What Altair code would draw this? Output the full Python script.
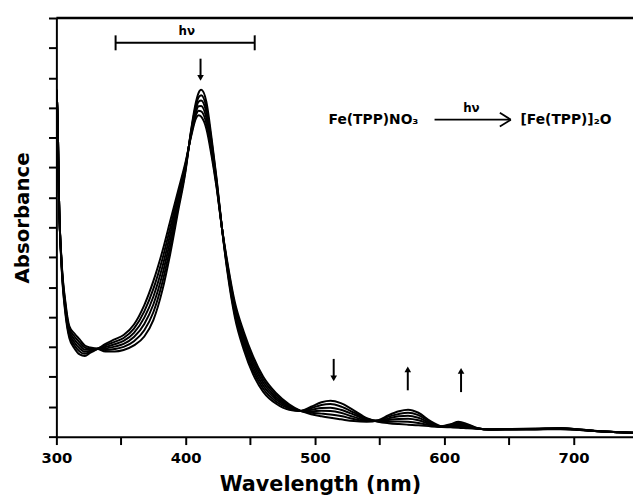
import altair as alt
import pandas as pd

wavelength = [300, 301, 302, 304, 307, 310, 314, 318, 322, 326, 332, 338, 345, 352, 360, 368, 375,
              382, 388, 394, 400, 404, 408, 410, 412, 416, 420, 424, 428, 432, 438, 445, 452,
              460, 470, 480, 489, 497, 505, 512, 520, 530, 540, 549, 557, 565, 572, 580, 590,
              598, 605, 611, 618, 626, 635, 650, 670, 690, 705, 720, 735, 746]

curve_1 = [11.6, 10.6, 8.0, 5.9, 4.5, 3.7, 3.45, 3.25, 3.05, 2.98, 2.94, 2.85, 2.85, 2.9, 3.05, 3.35, 3.9,
           4.9, 6.1, 7.5, 8.9, 10.2, 11.2, 11.5, 11.6, 11.2, 10.0, 8.6, 7.0, 5.6, 4.0, 2.9, 2.1,
           1.5, 1.1, 0.9, 0.86, 1.0, 1.15, 1.2, 1.12, 0.88, 0.62, 0.5, 0.45, 0.42, 0.4, 0.38, 0.34,
           0.32, 0.31, 0.3, 0.28, 0.26, 0.24, 0.24, 0.24, 0.25, 0.22, 0.18, 0.15, 0.13]
curve_2 = [11.6, 10.6, 8.0, 5.86, 4.42, 3.62, 3.35, 3.15, 2.98, 2.94, 2.94, 2.9, 2.93, 3.0, 3.19, 3.56, 4.16,
           5.16, 6.32, 7.64, 8.96, 10.16, 11.09, 11.35, 11.42, 11.02, 9.88, 8.54, 7.0, 5.66, 4.1, 3.02, 2.22,
           1.6, 1.17, 0.94, 0.86, 0.95, 1.06, 1.09, 1.01, 0.81, 0.6, 0.51, 0.5, 0.51, 0.5, 0.46, 0.37,
           0.33, 0.33, 0.34, 0.31, 0.26, 0.24, 0.24, 0.25, 0.26, 0.22, 0.18, 0.15, 0.13]
curve_3 = [11.6, 10.6, 8.0, 5.82, 4.34, 3.54, 3.25, 3.05, 2.91, 2.91, 2.94, 2.95, 3.01, 3.1, 3.33, 3.77, 4.42,
           5.42, 6.54, 7.78, 9.02, 10.12, 10.98, 11.2, 11.24, 10.84, 9.76, 8.48, 7.0, 5.72, 4.2, 3.14, 2.34,
           1.7, 1.24, 0.97, 0.86, 0.9, 0.96, 0.97, 0.9, 0.74, 0.57, 0.52, 0.56, 0.59, 0.6, 0.55, 0.4,
           0.33, 0.35, 0.38, 0.34, 0.27, 0.24, 0.25, 0.25, 0.27, 0.23, 0.18, 0.15, 0.13]
curve_4 = [11.6, 10.6, 8.0, 5.78, 4.26, 3.46, 3.15, 2.95, 2.84, 2.87, 2.94, 3.0, 3.09, 3.2, 3.47, 3.98, 4.68,
           5.68, 6.76, 7.92, 9.08, 10.08, 10.87, 11.05, 11.06, 10.66, 9.64, 8.42, 7.0, 5.78, 4.3, 3.26, 2.46,
           1.8, 1.31, 1.01, 0.86, 0.85, 0.87, 0.86, 0.8, 0.66, 0.55, 0.53, 0.61, 0.68, 0.7, 0.63, 0.44,
           0.34, 0.38, 0.42, 0.36, 0.27, 0.24, 0.25, 0.26, 0.27, 0.23, 0.18, 0.15, 0.13]
curve_5 = [11.6, 10.6, 8.0, 5.74, 4.18, 3.38, 3.05, 2.85, 2.77, 2.84, 2.94, 3.05, 3.17, 3.3, 3.61, 4.19, 4.94,
           5.94, 6.98, 8.06, 9.14, 10.04, 10.76, 10.9, 10.88, 10.48, 9.52, 8.36, 7.0, 5.84, 4.4, 3.38, 2.58,
           1.9, 1.38, 1.04, 0.86, 0.8, 0.77, 0.74, 0.69, 0.59, 0.52, 0.54, 0.67, 0.76, 0.8, 0.72, 0.47,
           0.34, 0.4, 0.46, 0.39, 0.28, 0.24, 0.26, 0.26, 0.28, 0.24, 0.18, 0.15, 0.13]
curve_6 = [11.6, 10.6, 8.0, 5.7, 4.1, 3.3, 2.95, 2.75, 2.7, 2.8, 2.94, 3.1, 3.25, 3.4, 3.75, 4.4, 5.2,
           6.2, 7.2, 8.2, 9.2, 10.0, 10.65, 10.75, 10.7, 10.3, 9.4, 8.3, 7.0, 5.9, 4.5, 3.5, 2.7,
           2.0, 1.45, 1.08, 0.86, 0.75, 0.68, 0.63, 0.58, 0.52, 0.5, 0.55, 0.72, 0.85, 0.9, 0.8, 0.5,
           0.35, 0.42, 0.5, 0.42, 0.28, 0.24, 0.26, 0.27, 0.29, 0.24, 0.18, 0.15, 0.13]

curves = [curve_1, curve_2, curve_3, curve_4, curve_5, curve_6]

x_ticks = [300, 350, 400, 450, 500, 550, 600, 650, 700]
y_ticks = list(range(0, 15))

# annotation values (data coordinates)
hv_bar_x = [345.8, 453.4]
hv_bar_y = 13.17
hv_cap_y = [12.92, 13.42]
hv_label = "hν"
hv_label_pos = [400.8, 13.56]

arrow_x = [411.5, 514.5, 571.8, 613.0]
arrow_tail = [12.64, 2.6, 1.55, 1.49]
arrow_head = [12.0, 1.95, 2.25, 2.2]
arrow_shape = ["triangle-down", "triangle-down", "triangle-up", "triangle-up"]

eq_left = "Fe(TPP)NO₃"
eq_right = "[Fe(TPP)]₂O"
eq_left_x = 510.5
eq_right_x = 659.0
eq_y = 10.6
eq_arrow_x = [592.5, 651.5]
eq_arrow_head_x = 643.0
eq_arrow_head_y = [10.83, 10.37]
eq_hv_pos = [621.0, 10.98]

rows = []
for i, c in enumerate(curves):
    for w, a in zip(wavelength, c):
        rows.append({"wl": w, "abs": a, "run": i})
df = pd.DataFrame(rows)

FONT = "DejaVu Sans"
x_scale = alt.Scale(domain=[300, 746], nice=False, zero=False)
y_scale = alt.Scale(domain=[0, 14], nice=False, zero=False)

lines = alt.Chart(df).mark_line(color="black", strokeWidth=2, interpolate="monotone", clip=True).encode(
    x=alt.X("wl:Q", scale=x_scale,
            axis=alt.Axis(values=x_ticks, tickCount=30,
                          labelExpr="datum.value % 100 == 0 ? datum.value : ''",
                          labelOverlap=False, labelFlush=False,
                          title="Wavelength (nm)", titleX=267, titleY=49,
                          titleBaseline="middle", titleAlign="center",
                          titleFontSize=21, labelPadding=6)),
    y=alt.Y("abs:Q", scale=y_scale,
            axis=alt.Axis(values=y_ticks, tickCount=30, labels=False, labelOverlap=False,
                          title="Absorbance", titleFontSize=20,
                          titleX=-34, titleY=202, titleAngle=270,
                          titleBaseline="middle", titleAlign="center")),
    detail="run:N",
)

top_df = pd.DataFrame({"x": [300], "x2": [746], "y": [14]})
top_rule = alt.Chart(top_df).mark_rule(color="black", strokeWidth=2.5).encode(
    x=alt.X("x:Q", scale=x_scale), x2="x2:Q", y=alt.Y("y:Q", scale=y_scale))

bar_df = pd.DataFrame({"x": [hv_bar_x[0]], "x2": [hv_bar_x[1]], "y": [hv_bar_y]})
hv_bar = alt.Chart(bar_df).mark_rule(color="black", strokeWidth=2).encode(
    x=alt.X("x:Q", scale=x_scale), x2="x2:Q", y=alt.Y("y:Q", scale=y_scale))

caps_df = pd.DataFrame({"x": hv_bar_x, "y": [hv_cap_y[0]] * 2, "y2": [hv_cap_y[1]] * 2})
hv_caps = alt.Chart(caps_df).mark_rule(color="black", strokeWidth=2).encode(
    x=alt.X("x:Q", scale=x_scale), y=alt.Y("y:Q", scale=y_scale), y2="y2:Q")

text_df = pd.DataFrame({
    "x": [hv_label_pos[0], eq_left_x, eq_right_x, eq_hv_pos[0]],
    "y": [hv_label_pos[1], eq_y, eq_y, eq_hv_pos[1]],
    "t": [hv_label, eq_left, eq_right, hv_label],
    "a": ["center", "left", "left", "center"],
})
texts_c = alt.Chart(text_df[text_df["a"] == "center"]).mark_text(
    font=FONT, fontWeight="bold", fontSize=12, color="black", align="center", baseline="middle").encode(
    x=alt.X("x:Q", scale=x_scale), y=alt.Y("y:Q", scale=y_scale), text="t:N")
texts_l = alt.Chart(text_df[text_df["a"] == "left"]).mark_text(
    font=FONT, fontWeight="bold", fontSize=14, color="black", align="left", baseline="middle").encode(
    x=alt.X("x:Q", scale=x_scale), y=alt.Y("y:Q", scale=y_scale), text="t:N")

arr_df = pd.DataFrame({"x": arrow_x, "y": arrow_tail, "y2": arrow_head, "shape": arrow_shape})
arr_shafts = alt.Chart(arr_df).mark_rule(color="black", strokeWidth=2).encode(
    x=alt.X("x:Q", scale=x_scale), y=alt.Y("y:Q", scale=y_scale), y2="y2:Q")
arr_heads = alt.Chart(arr_df).mark_point(filled=True, color="black", size=45, opacity=1).encode(
    x=alt.X("x:Q", scale=x_scale), y=alt.Y("y2:Q", scale=y_scale),
    shape=alt.Shape("shape:N", scale=None, legend=None))

eq_df = pd.DataFrame({"x": [eq_arrow_x[0]], "x2": [eq_arrow_x[1]], "y": [eq_y]})
eq_shaft = alt.Chart(eq_df).mark_rule(color="black", strokeWidth=1.8).encode(
    x=alt.X("x:Q", scale=x_scale), x2="x2:Q", y=alt.Y("y:Q", scale=y_scale))
eqh_df = pd.DataFrame({"x": [eq_arrow_head_x] * 2, "y": eq_arrow_head_y,
                       "x2": [eq_arrow_x[1]] * 2, "y2": [eq_y] * 2})
eq_head = alt.Chart(eqh_df).mark_rule(color="black", strokeWidth=1.8).encode(
    x=alt.X("x:Q", scale=x_scale), y=alt.Y("y:Q", scale=y_scale), x2="x2:Q", y2="y2:Q")

chart = alt.layer(lines, top_rule, hv_bar, hv_caps, texts_c, texts_l, arr_shafts, arr_heads,
                  eq_shaft, eq_head).properties(
    width=584, height=424, autosize="none",
    padding={"left": 49, "top": 7, "right": 0, "bottom": 60},
).configure_view(stroke=None).configure_axis(
    domainColor="black", domainWidth=2, tickColor="black", tickWidth=2, tickSize=8,
    grid=False, labelFont=FONT, labelFontWeight="bold", labelFontSize=15, labelColor="black",
    titleFont=FONT, titleFontWeight="bold", titleColor="black",
)

chart.save("out.html", embed_options={"renderer": "svg", "actions": False})
